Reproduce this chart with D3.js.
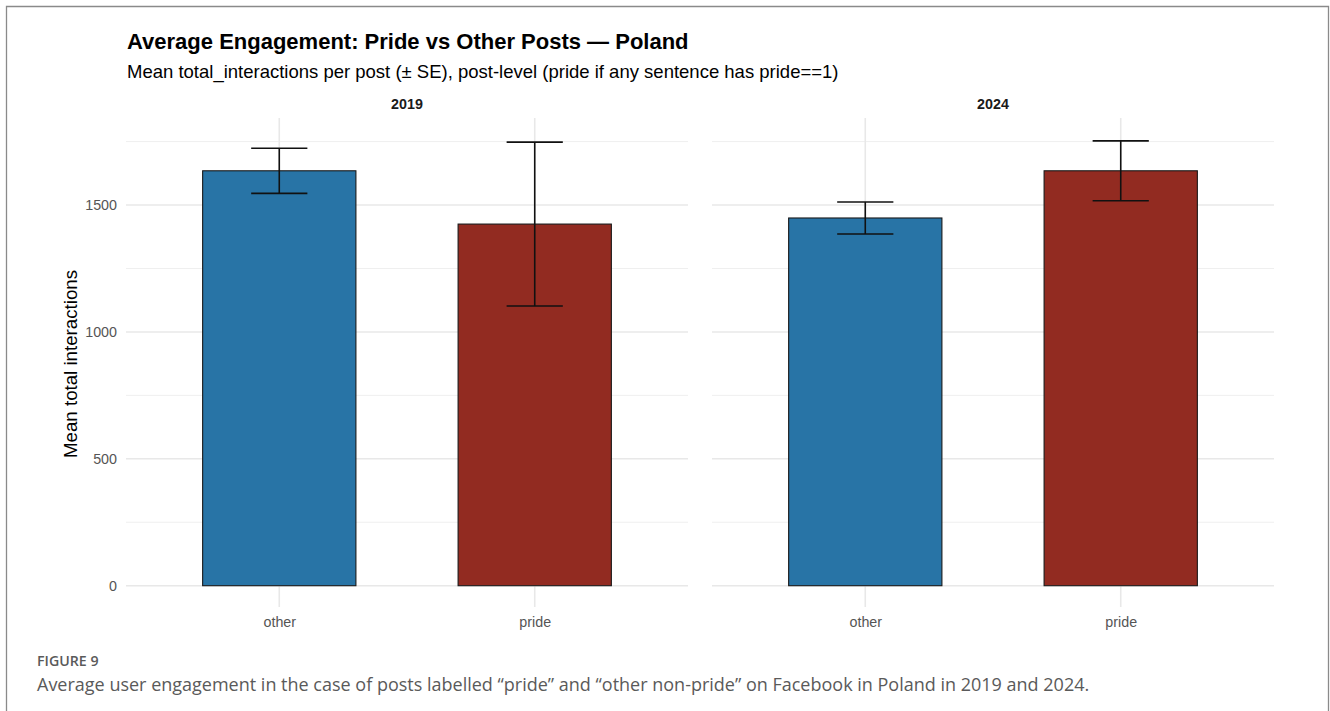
<!DOCTYPE html>
<html>
<head>
<meta charset="utf-8">
<script src="https://cdn.jsdelivr.net/npm/d3@7"></script>
<style>
  html, body { margin: 0; padding: 0; background: #fff; }
  svg { display: block; }
</style>
</head>
<body>
<svg id="chart" width="1330" height="711"></svg>
<script>
// Facets, categories and per-post engagement summaries
const years = ["2019", "2024"];
const categories = ["other", "pride"];
const meanValues = {
  "2019": [1635, 1425],
  "2024": [1449, 1635]
};
const seValues = {
  "2019": [89, 323],
  "2024": [63, 118]
};
const yTicks = [0, 500, 1000, 1500];
const yMinorTicks = [250, 750, 1250, 1750];
const barColors = ["#2874a6", "#922b21"];

const svg = d3.select("#chart");
const sans = "'Liberation Sans', Arial, Helvetica, sans-serif";
const captionFont = "'Open Sans', 'Noto Sans', sans-serif";

// figure frame
svg.append("path")
  .attr("d", "M6.5,720 V6.5 H1328.5 V720")
  .attr("fill", "none")
  .attr("stroke", "#8a8a8a")
  .attr("stroke-width", 1.3);

// panel geometry
const panelTop = 118, panelBottom = 607;
const panels = [{ x0: 126, x1: 688 }, { x0: 712, x1: 1274 }];

const y = d3.scaleLinear().domain([0, 1750]).range([585.7, 141.6]);

// Titles
svg.append("text").attr("x", 127).attr("y", 49)
  .attr("font-family", sans).attr("font-weight", "bold").attr("font-size", 22)
  .attr("fill", "#000").text("Average Engagement: Pride vs Other Posts \u2014 Poland");
svg.append("text").attr("x", 127).attr("y", 78)
  .attr("font-family", sans).attr("font-size", 18.5)
  .attr("fill", "#000").text("Mean total_interactions per post (\u00b1 SE), post-level (pride if any sentence has pride==1)");

// Y axis title
svg.append("text")
  .attr("transform", "translate(77,364) rotate(-90)")
  .attr("text-anchor", "middle")
  .attr("font-family", sans).attr("font-size", 18.7)
  .attr("fill", "#000").text("Mean total interactions");

// Y tick labels (left panel only)
const yAxis = d3.axisLeft(y).tickValues(yTicks).tickSize(0).tickPadding(9).tickFormat(d3.format("d"));
const yG = svg.append("g").attr("transform", `translate(${panels[0].x0},0)`).call(yAxis);
yG.select(".domain").remove();
yG.selectAll("text").attr("font-family", sans).attr("font-size", 14.3).attr("fill", "#555");

years.forEach((yr, i) => {
  const p = panels[i];
  const g = svg.append("g");
  // discrete x positions with 0.6-unit expansion on each side
  const unit = (p.x1 - p.x0) / 2.2;
  const xc = d3.scalePoint().domain(categories).range([p.x0 + 0.6 * unit, p.x1 - 0.6 * unit]);
  const barW = 0.6 * unit;

  // gridlines
  g.selectAll(".minor").data(yMinorTicks).join("line")
    .attr("x1", p.x0).attr("x2", p.x1)
    .attr("y1", d => y(d)).attr("y2", d => y(d))
    .attr("stroke", "#efefef").attr("stroke-width", 1);
  g.selectAll(".major").data(yTicks).join("line")
    .attr("x1", p.x0).attr("x2", p.x1)
    .attr("y1", d => y(d)).attr("y2", d => y(d))
    .attr("stroke", "#e8e8e8").attr("stroke-width", 1.6);
  g.selectAll(".vgrid").data(categories).join("line")
    .attr("x1", d => xc(d)).attr("x2", d => xc(d))
    .attr("y1", panelTop).attr("y2", panelBottom)
    .attr("stroke", "#e8e8e8").attr("stroke-width", 1.6);

  // strip label
  svg.append("text").attr("x", (p.x0 + p.x1) / 2).attr("y", 109)
    .attr("text-anchor", "middle").attr("font-family", sans)
    .attr("font-weight", "bold").attr("font-size", 14.3).attr("fill", "#1a1a1a")
    .text(yr);

  const rows = categories.map((c, j) => ({ c, m: meanValues[yr][j], se: seValues[yr][j], col: barColors[j] }));

  // bars
  g.selectAll(".bar").data(rows).join("rect")
    .attr("x", d => xc(d.c) - barW / 2).attr("width", barW)
    .attr("y", d => y(d.m)).attr("height", d => y(0) - y(d.m))
    .attr("fill", d => d.col).attr("stroke", "#1a1a1a").attr("stroke-width", 1.1);

  // error bars
  const capW = 0.22 * unit;
  rows.forEach(d => {
    const cx = xc(d.c);
    const eg = g.append("g").attr("stroke", "#111").attr("stroke-width", 1.6).attr("fill", "none");
    eg.append("line").attr("x1", cx).attr("x2", cx).attr("y1", y(d.m + d.se)).attr("y2", y(d.m - d.se));
    eg.append("line").attr("x1", cx - capW / 2).attr("x2", cx + capW / 2).attr("y1", y(d.m + d.se)).attr("y2", y(d.m + d.se));
    eg.append("line").attr("x1", cx - capW / 2).attr("x2", cx + capW / 2).attr("y1", y(d.m - d.se)).attr("y2", y(d.m - d.se));
  });

  // x axis labels
  const xAxis = d3.axisBottom(xc).tickSize(0).tickPadding(0);
  const xG = svg.append("g").attr("transform", "translate(0,627)").call(xAxis);
  xG.select(".domain").remove();
  xG.selectAll("text").attr("font-family", sans).attr("font-size", 14.3).attr("fill", "#555").attr("dy", 0);
});

// Figure caption
svg.append("text").attr("x", 37).attr("y", 666)
  .attr("font-family", captionFont).attr("font-weight", 600).attr("font-size", 14.2)
  .attr("fill", "#5a5a5a").text("FIGURE 9");
svg.append("text").attr("x", 37).attr("y", 691)
  .attr("font-family", captionFont).attr("font-size", 18)
  .attr("fill", "#5a5a5a")
  .text("Average user engagement in the case of posts labelled \u201cpride\u201d and \u201cother non-pride\u201d on Facebook in Poland in 2019 and 2024.");
</script>
</body>
</html>
